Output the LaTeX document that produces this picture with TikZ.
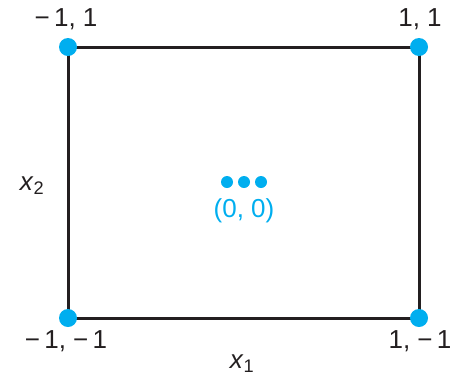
\documentclass[tikz,border=0pt]{standalone}
\usepackage{fontspec}
\setmainfont{Liberation Sans}
\definecolor{dotblue}{HTML}{00AEEF}
\definecolor{linegray}{HTML}{231F20}
\tikzset{
  corner/.style={circle,fill=dotblue,inner sep=0pt,minimum size=18pt},
  smalldot/.style={circle,fill=dotblue,inner sep=0pt,minimum size=12pt},
  lbl/.style={inner sep=0pt,font=\fontsize{26}{30}\selectfont,text=linegray},
  edge/.style={draw=linegray,line width=3pt}
}
\begin{document}
\begin{tikzpicture}[x=1pt,y=-1pt]
\useasboundingbox (0,0) rectangle (452,384);
\coordinate (tl) at (68,47);
\coordinate (tr) at (419,47);
\coordinate (bl) at (68,318);
\coordinate (br) at (419,318);
\draw[edge] (tl) -- (tr) -- (br) -- (bl) -- cycle;
\node[corner] (ntl) at (tl) {};
\node[corner] (ntr) at (tr) {};
\node[corner] (nbl) at (bl) {};
\node[corner] (nbr) at (br) {};
\node[lbl] (ltl) at (66,19) {−\,1, 1};
\node[lbl] (ltr) at (420,19) {1, 1};
\node[lbl] (lbl1) at (66,341) {−\,1, −\,1};
\node[lbl] (lbr) at (420,341) {1, −\,1};
\node[smalldot] (d1) at (227,182) {};
\node[smalldot] (d2) at (244,182) {};
\node[smalldot] (d3) at (261,182) {};
\node[lbl,text=dotblue] (orig) at (244,211) {(0, 0)};
\node[lbl] (xtwo) at (32,186) {\textit{x}\textsubscript{2}};
\node[lbl] (xone) at (242,364) {\textit{x}\textsubscript{1}};
\end{tikzpicture}
\end{document}
